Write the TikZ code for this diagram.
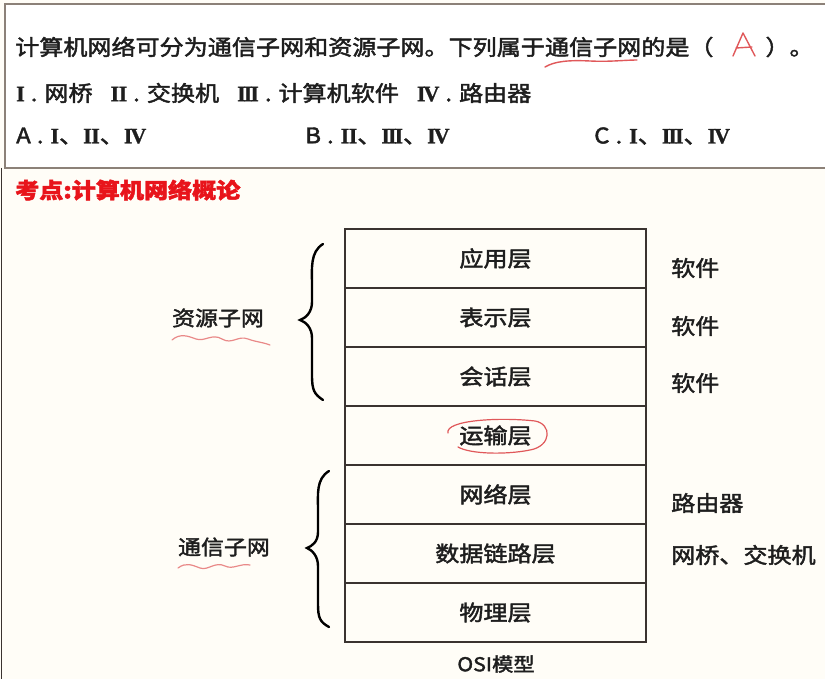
\documentclass[tikz,border=0pt]{standalone}
\usepackage{fontspec}
\setmainfont{Noto Sans CJK SC}[FakeBold=2,FakeStretch=1.12]
\newfontfamily\rom{Liberation Serif}[FakeBold=1]
\newcommand{\R}[1]{{\rom\bfseries\fontsize{22}{26}\selectfont #1}}
\newcommand{\RI}{\R{I}}
\newcommand{\RII}{\R{I\kern-0.5pt I}}
\newcommand{\RIII}{\R{I\kern-2pt I\kern-2pt I}}
\newcommand{\RIV}{\R{I\kern-2pt V}}
\newcommand{\dt}{\hspace{6pt}.\hspace{7pt}}
\definecolor{bgc}{HTML}{FFFDF7}
\definecolor{boxc}{HTML}{8C8178}
\definecolor{linec}{HTML}{3A3330}
\definecolor{txt}{HTML}{1E1E1E}
\definecolor{pen}{HTML}{E0585A}
\definecolor{headred}{HTML}{E8141B}
\begin{document}
\begin{tikzpicture}[x=1pt,y=-1pt,
  q/.style={anchor=west,inner sep=0,text=txt,font=\fontsize{21.5}{26}\selectfont},
  layer/.style={draw=linec,line width=1.8pt,minimum width=301pt,minimum height=59pt,inner sep=0,text=txt,font=\fontsize{21.5}{26}\selectfont},
  side/.style={anchor=west,inner sep=0,text=txt,font=\fontsize{21.5}{26}\selectfont},
  brace/.style={draw=black,line width=2.4pt,line cap=round},
  penline/.style={draw=pen,line width=1.4pt,line cap=round,line join=round}]
\useasboundingbox (0,0) rectangle (825,679);
\fill[bgc] (0,0) rectangle (825,679);
% question box
\fill[white] (5,4) rectangle (825,168);
\draw[boxc,line width=1.8pt] (825,4) -- (5,4) -- (5,168) -- (825,168);
\draw[linec,line width=1pt] (1,168) -- (1,679);
\node[q] (q1) at (15,47) {计算机网络可分为通信子网和资源子网。下列属于通信子网的是（\hspace{52pt}）。};
\node[q] (q2) at (16,93) {\RI\dt 网桥\hspace{18pt}\RII\dt 交换机\hspace{18pt}\RIII\dt 计算机软件\hspace{18pt}\RIV\dt 路由器};
\node[q] (qa) at (16,136) {A\dt\RI、\RII、\RIV};
\node[q] (qb) at (305,136) {B\dt\RII、\RIII、\RIV};
\node[q] (qc) at (594,136) {C\dt\RI、\RIII、\RIV};
% handwritten answer A
\draw[penline] (733,56) -- (743,33) -- (755,56);
\draw[penline] (736,48) -- (752,47);
\draw[penline] (545,67) .. controls (555,61) and (570,60) .. (590,61) .. controls (610,62) and (625,60) .. (637,60);
% heading
\node[anchor=west,inner sep=0,text=headred,font=\fontsize{21.5}{26}\selectfont\bfseries] (head) at (15,190) {考点:计算机网络概论};
% OSI layers
\node[layer] (l7) at (495.5,258.5) {应用层};
\node[layer] (l6) at (495.5,317.5) {表示层};
\node[layer] (l5) at (495.5,376.5) {会话层};
\node[layer] (l4) at (495.5,435.5) {运输层};
\node[layer] (l3) at (495.5,494.5) {网络层};
\node[layer] (l2) at (495.5,553.5) {数据链路层};
\node[layer] (l1) at (495.5,612.5) {物理层};
\node[inner sep=0,text=txt,font=\fontsize{19}{22}\selectfont] (osi) at (496,664) {OSI模型};
% side labels
\node[side] (s7) at (671,268) {软件};
\node[side] (s6) at (671,326) {软件};
\node[side] (s5) at (671,383) {软件};
\node[side] (s3) at (671,503) {路由器};
\node[side] (s2) at (671,555) {网桥、交换机};
% red circle around transport layer
\draw[penline,line width=1.2pt] (448,433) .. controls (445,420) and (500,417) .. (535,421) .. controls (552,424) and (552,446) .. (530,450) .. controls (505,455) and (470,454) .. (458,447);
% left group labels
\node[inner sep=0,text=txt,font=\fontsize{20.5}{24}\selectfont] (res) at (218,318) {资源子网};
\node[inner sep=0,text=txt,font=\fontsize{20.5}{24}\selectfont] (com) at (224,547) {通信子网};
\draw[penline,line width=1.2pt,opacity=0.7] (172,340) .. controls (180,333) and (188,336) .. (196,339) .. controls (205,342) and (212,333) .. (222,339) .. controls (232,345) and (238,335) .. (248,339) .. controls (256,342) and (262,342) .. (270,345);
\draw[penline,line width=1.2pt,opacity=0.7] (178,568) .. controls (186,562) and (192,565) .. (200,568) .. controls (208,571) and (215,561) .. (225,566) .. controls (233,570) and (240,563) .. (250,565);
% braces
\draw[brace] (323,244) .. controls (310,252) and (312,268) .. (312,285) -- (312,302) .. controls (312,312) and (306,318) .. (300,320) .. controls (306,322) and (312,328) .. (312,338) -- (312,375) .. controls (312,390) and (314,394) .. (323,400);
\draw[brace] (329,471) .. controls (316,479) and (318,494) .. (318,510) -- (318,532) .. controls (318,542) and (312,546) .. (307,548) .. controls (312,550) and (318,556) .. (318,566) -- (318,604) .. controls (318,618) and (320,622) .. (329,627);
\end{tikzpicture}
\end{document}
